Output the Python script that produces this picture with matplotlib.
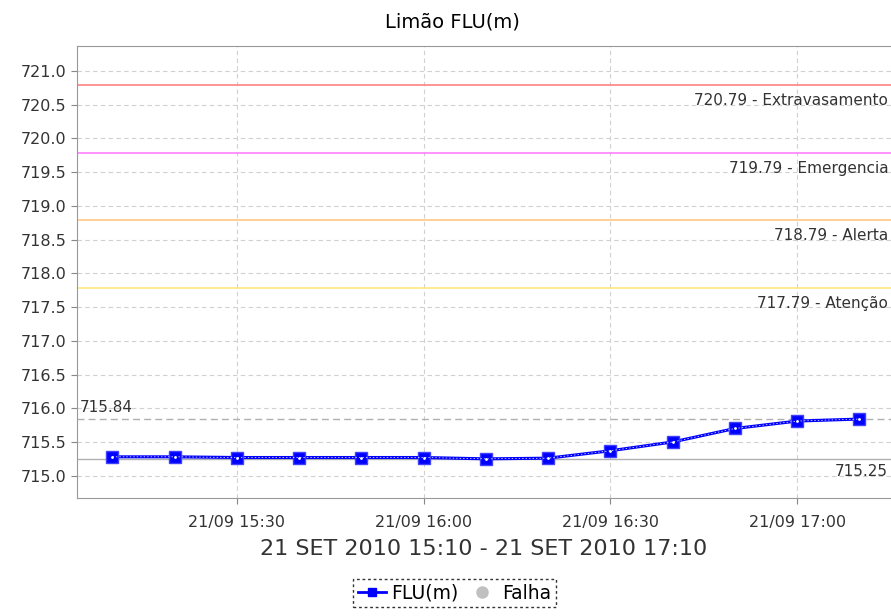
import matplotlib.pyplot as plt
import matplotlib.dates as mdates
from matplotlib.lines import Line2D
import numpy as np
from datetime import datetime

# leituras FLU(m) a cada 10 minutos
times = ["15:10", "15:20", "15:30", "15:40", "15:50", "16:00", "16:10",
         "16:20", "16:30", "16:40", "16:50", "17:00", "17:10"]
levels = [715.28, 715.28, 715.27, 715.27, 715.27, 715.27, 715.25,
          715.26, 715.37, 715.50, 715.70, 715.81, 715.84]

limits = [720.79, 719.79, 718.79, 717.79]
limit_names = ["Extravasamento", "Emergencia", "Alerta", "Atenção"]
limit_colors = ["#ff8080", "#ff80ff", "#ffc880", "#ffe880"]

x = [datetime.strptime("2010-09-21 " + t, "%Y-%m-%d %H:%M") for t in times]

fig = plt.figure(figsize=(8.91, 6.16), dpi=100)
ax = fig.add_axes([0.0864, 0.1916, 0.9136, 0.7337])

xmin = datetime(2010, 9, 21, 15, 4, 18)
xmax = datetime(2010, 9, 21, 17, 15, 5)
ax.set_xlim(xmin, xmax)
ax.set_ylim(714.67, 721.37)

ax.grid(True, ls=(0, (4, 3)), color="#d0d0d0", lw=0.8)
ax.set_axisbelow(True)

for v, name, c in zip(limits, limit_names, limit_colors):
    ax.axhline(v, color=c, lw=1.2)
    ax.annotate(f"{v:.2f} - {name}", xy=(1, v), xycoords=("axes fraction", "data"),
                xytext=(-2, -6), textcoords="offset points",
                ha="right", va="top", fontsize=11, color="#333333")

vmax, vmin = max(levels), min(levels)
ax.axhline(vmax, color="#b0b0b0", lw=1, ls=(0, (5, 3)))
ax.axhline(vmin, color="#b0b0b0", lw=1)
ax.annotate(f"{vmax:.2f}", xy=(0, vmax), xycoords=("axes fraction", "data"),
            xytext=(2, 3), textcoords="offset points",
            ha="left", va="bottom", fontsize=11, color="#333333")
ax.annotate(f"{vmin:.2f}", xy=(1, vmin), xycoords=("axes fraction", "data"),
            xytext=(-2, -4), textcoords="offset points",
            ha="right", va="top", fontsize=11, color="#333333")

ax.plot(x, levels, color="#0000ff", lw=2.2, marker="s", ms=8.5,
        mfc="#0000ff", mec="#4040ff", zorder=5)
ax.plot(x, levels, color="white", lw=0.5, ls=(0, (2, 3)), zorder=6)
ax.plot(x, levels, ls="none", marker=".", ms=2, color="white", zorder=7)

ax.xaxis.set_major_locator(mdates.MinuteLocator(byminute=[0, 30]))
ax.xaxis.set_major_formatter(mdates.DateFormatter("%d/%m %H:%M"))
ax.set_yticks(np.arange(715.0, 721.01, 0.5))
ax.yaxis.set_major_formatter(plt.FormatStrFormatter("%.1f"))
ax.tick_params(axis="y", labelsize=11.5)
ax.tick_params(axis="x", labelsize=11.5, pad=8)
ax.tick_params(colors="#333333", length=4, color="#888888")

for s in ["left", "bottom", "top"]:
    ax.spines[s].set_color("#999999")
ax.spines["right"].set_visible(False)

fig.text(0.508, 0.964, "Limão FLU(m)", ha="center", va="center", fontsize=14)
ax.set_xlabel("21 SET 2010 15:10 - 21 SET 2010 17:10", fontsize=16, color="#333333", labelpad=7)

handles = [Line2D([], [], color="#0000ff", lw=2, marker="s", ms=6),
           Line2D([], [], color="#c0c0c0", ls="none", marker="o", ms=8)]
leg = fig.legend(handles, ["FLU(m)", "Falha"], loc="center", bbox_to_anchor=(0.51, 0.037),
                 ncol=2, fontsize=13.5, frameon=True, fancybox=False, handlelength=1.5,
                 handletextpad=0.3, columnspacing=0.5, borderpad=0.25)
leg.get_frame().set_edgecolor("black")
leg.get_frame().set_linestyle((0, (2, 2)))

fig.savefig("out.png", dpi=100)
